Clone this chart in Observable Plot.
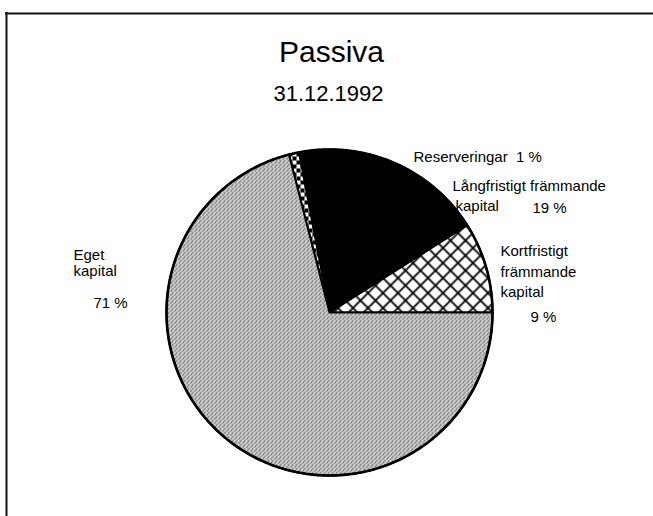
<!DOCTYPE html>
<html>
<head>
<meta charset="utf-8">
<script src="https://cdn.jsdelivr.net/npm/d3@7"></script>
<script src="https://cdn.jsdelivr.net/npm/@observablehq/plot@0.6"></script>
<style>
  html, body { margin: 0; padding: 0; background: #fff; }
  #chart svg { display: block; }
</style>
</head>
<body>
<div id="chart"></div>
<script>
// ---- data ----
const titleText = "Passiva";
const subtitleText = "31.12.1992";
const categories = ["Kortfristigt främmande kapital", "Långfristigt främmande kapital", "Reserveringar", "Eget kapital"];
const values = [9, 19, 1, 71];
const fills = ["url(#cross)", "#000000", "url(#checker)", "url(#stipple)"];
const labelLines = [
  "Reserveringar  1 %",
  "Långfristigt främmande", "kapital", "19 %",
  "Kortfristigt", "främmande", "kapital", "9 %",
  "Eget", "kapital", "71 %"
];
// ---- layout (pixels) ----
const W = 653, H = 516;
const cx = 329, cy = 312, r = 163;
const labelPos = [
  [413, 157],
  [452, 186], [455, 206], [532, 208],
  [500, 251], [500, 272], [500, 292], [530, 317],
  [73, 255], [73, 271], [93, 303]
];
const frameTop = 13, frameLeft = 6;

const arcs = d3.pie().sort(null)(values);
const pts = [];
arcs.forEach((a, i) => {
  const name = categories[i];
  pts.push({x: cx, y: cy, name, fill: fills[i]});
  const n = Math.max(2, Math.ceil((a.endAngle - a.startAngle) / (Math.PI / 180)));
  for (let k = 0; k <= n; ++k) {
    const t = a.startAngle + (a.endAngle - a.startAngle) * k / n;
    pts.push({x: cx + r * Math.cos(t), y: cy - r * Math.sin(t), name, fill: fills[i]});
  }
  pts.push({x: cx, y: cy, name, fill: fills[i]});
});
const ring = [];
for (let k = 0; k <= 360; ++k) {
  const t = k * Math.PI / 180;
  ring.push({x: cx + r * Math.cos(t), y: cy - r * Math.sin(t)});
}
const labels = labelLines.map((text, i) => ({text, x: labelPos[i][0], y: labelPos[i][1]}));

const chart = Plot.plot({
  width: W, height: H, margin: 0,
  x: {domain: [0, W], range: [0, W], axis: null},
  y: {domain: [0, H], range: [0, H], axis: null},
  color: {type: "identity"},
  style: {fontFamily: "'Liberation Sans', Arial, sans-serif", background: "#fff"},
  marks: [
    Plot.ruleY([frameTop], {x1: frameLeft - 1, x2: W, stroke: "#111", strokeWidth: 2}),
    Plot.ruleX([frameLeft], {y1: frameTop - 1, y2: H, stroke: "#111", strokeWidth: 2}),
    Plot.text([titleText], {x: 331, y: 52, text: d => d, fontSize: 30, fill: "#000"}),
    Plot.text([subtitleText], {x: 328, y: 93, text: d => d, fontSize: 22, fill: "#000"}),
    Plot.line(pts, {x: "x", y: "y", z: "name", fill: "fill", stroke: "#000", strokeWidth: 2, strokeLinejoin: "round", curve: "linear"}),
    Plot.line(ring, {x: "x", y: "y", stroke: "#000", strokeWidth: 2.6}),
    Plot.text(labels, {x: "x", y: "y", text: "text", textAnchor: "start", fontSize: 15, fill: "#000"})
  ]
});

const ns = "http://www.w3.org/2000/svg";
const defs = document.createElementNS(ns, "defs");
defs.innerHTML = `
  <pattern id="cross" patternUnits="userSpaceOnUse" width="15" height="15">
    <rect width="15" height="15" fill="#fff"/>
    <path d="M0,0L15,15M15,0L0,15M-2,13L2,17M13,-2L17,2M-2,2L2,-2M13,17L17,13" stroke="#000" stroke-width="1.8" fill="none"/>
  </pattern>
  <pattern id="checker" patternUnits="userSpaceOnUse" width="8" height="8">
    <rect width="8" height="8" fill="#fff"/>
    <rect width="4" height="4" fill="#000"/>
    <rect x="4" y="4" width="4" height="4" fill="#000"/>
  </pattern>
  <pattern id="stipple" patternUnits="userSpaceOnUse" width="4" height="4">
    <rect width="4" height="4" fill="#e4e4e4"/>
    <rect x="0" y="0" width="1" height="1" fill="#333"/>
    <rect x="2" y="2" width="1" height="1" fill="#333"/>
    <rect x="3" y="1" width="1" height="1" fill="#444"/>
    <rect x="1" y="2" width="1" height="1" fill="#999"/>
    <rect x="2" y="0" width="1" height="1" fill="#999"/>
    <rect x="0" y="3" width="1" height="1" fill="#999"/>
    <rect x="3" y="3" width="1" height="1" fill="#aaa"/>
  </pattern>`;
chart.insertBefore(defs, chart.firstChild);
document.getElementById("chart").appendChild(chart);
</script>
</body>
</html>
